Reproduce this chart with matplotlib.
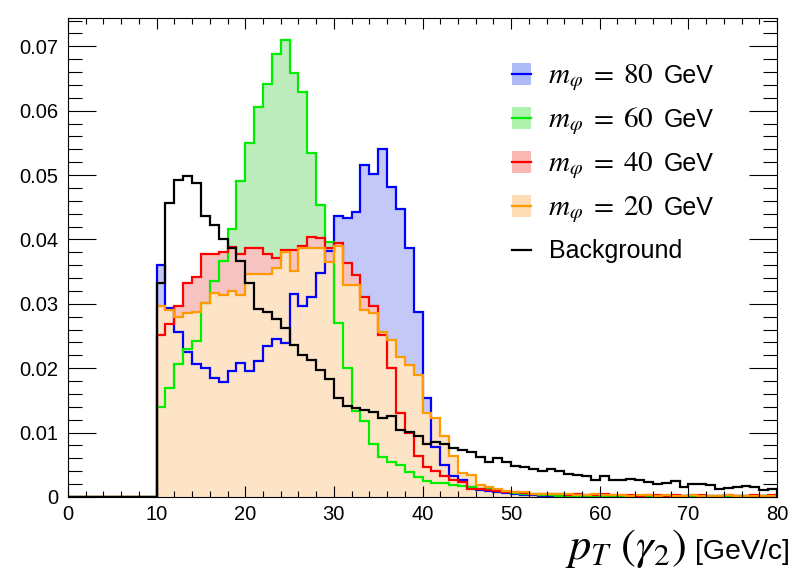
import numpy as np
import matplotlib.pyplot as plt
from matplotlib.patches import Rectangle
from matplotlib.lines import Line2D
from matplotlib.ticker import MultipleLocator, FuncFormatter

plt.rcParams['font.family'] = ['Liberation Sans', 'DejaVu Sans']
plt.rcParams['mathtext.fontset'] = 'stix'

# 1 GeV bins from 0 to 80, nothing below 10 GeV
edges = np.arange(0, 81)
empty = [0.0] * 10

m80 = empty + [
    0.0360, 0.0294, 0.0257, 0.0225, 0.0206, 0.0201, 0.0185, 0.0178, 0.0196, 0.0208,
    0.0195, 0.0212, 0.0234, 0.0246, 0.0239, 0.0316, 0.0296, 0.0311, 0.0348, 0.0382,
    0.0436, 0.0433, 0.0442, 0.0516, 0.0501, 0.0541, 0.0482, 0.0448, 0.0386, 0.0287,
    0.0153, 0.0078, 0.0050, 0.0032, 0.0027, 0.0016, 0.0011, 0.0010, 0.0008, 0.0006,
    0.0005, 0.0003, 0.0003, 0.0002, 0.0002, 0.0002, 0.0001, 0.0002, 0.0001, 0.0001,
    0.0002, 0.0001, 0.0001, 0.0001, 0.0001, 0.0002, 0.0001, 0.0001, 0.0001, 0.0001,
    0.0001, 0.0001, 0.0001, 0.0001, 0.0002, 0.0001, 0.0001, 0.0001, 0.0001, 0.0001,
]
m60 = empty + [
    0.0140, 0.0169, 0.0206, 0.0230, 0.0242, 0.0302, 0.0335, 0.0367, 0.0417, 0.0491,
    0.0550, 0.0605, 0.0642, 0.0688, 0.0710, 0.0659, 0.0629, 0.0535, 0.0454, 0.0396,
    0.0271, 0.0201, 0.0134, 0.0118, 0.0082, 0.0062, 0.0054, 0.0050, 0.0039, 0.0031,
    0.0025, 0.0022, 0.0021, 0.0019, 0.0017, 0.0015, 0.0013, 0.0012, 0.0010, 0.0008,
    0.0006, 0.0005, 0.0004, 0.0003, 0.0003, 0.0002, 0.0002, 0.0002, 0.0001, 0.0002,
    0.0001, 0.0001, 0.0001, 0.0001, 0.0001, 0.0001, 0.0001, 0.0001, 0.0001, 0.0001,
    0.0001, 0.0002, 0.0001, 0.0001, 0.0001, 0.0001, 0.0001, 0.0001, 0.0001, 0.0001,
]
m40 = empty + [
    0.0252, 0.0268, 0.0297, 0.0333, 0.0342, 0.0377, 0.0377, 0.0380, 0.0389, 0.0378,
    0.0386, 0.0386, 0.0378, 0.0372, 0.0384, 0.0384, 0.0390, 0.0404, 0.0402, 0.0386,
    0.0394, 0.0363, 0.0345, 0.0311, 0.0296, 0.0252, 0.0200, 0.0130, 0.0099, 0.0063,
    0.0046, 0.0041, 0.0032, 0.0026, 0.0024, 0.0013, 0.0012, 0.0011, 0.0009, 0.0008,
    0.0007, 0.0006, 0.0005, 0.0004, 0.0004, 0.0004, 0.0003, 0.0004, 0.0003, 0.0003,
    0.0004, 0.0003, 0.0003, 0.0003, 0.0002, 0.0003, 0.0003, 0.0002, 0.0003, 0.0002,
    0.0003, 0.0003, 0.0002, 0.0002, 0.0003, 0.0002, 0.0002, 0.0003, 0.0002, 0.0003,
]
m20 = empty + [
    0.0296, 0.0290, 0.0280, 0.0286, 0.0287, 0.0301, 0.0317, 0.0314, 0.0320, 0.0314,
    0.0347, 0.0347, 0.0347, 0.0355, 0.0380, 0.0351, 0.0386, 0.0386, 0.0386, 0.0365,
    0.0390, 0.0330, 0.0330, 0.0290, 0.0286, 0.0257, 0.0244, 0.0218, 0.0205, 0.0190,
    0.0130, 0.0122, 0.0094, 0.0063, 0.0037, 0.0034, 0.0019, 0.0016, 0.0012, 0.0010,
    0.0008, 0.0007, 0.0005, 0.0005, 0.0004, 0.0004, 0.0004, 0.0003, 0.0003, 0.0004,
    0.0003, 0.0003, 0.0003, 0.0002, 0.0003, 0.0003, 0.0002, 0.0003, 0.0002, 0.0002,
    0.0003, 0.0002, 0.0002, 0.0002, 0.0003, 0.0002, 0.0002, 0.0002, 0.0002, 0.0002,
]
background = empty + [
    0.0333, 0.0456, 0.0492, 0.0498, 0.0487, 0.0436, 0.0423, 0.0400, 0.0387, 0.0366,
    0.0332, 0.0292, 0.0287, 0.0276, 0.0262, 0.0236, 0.0220, 0.0213, 0.0197, 0.0184,
    0.0153, 0.0141, 0.0138, 0.0135, 0.0132, 0.0123, 0.0126, 0.0104, 0.0101, 0.0094,
    0.0083, 0.0086, 0.0083, 0.0076, 0.0073, 0.0070, 0.0062, 0.0055, 0.0061, 0.0055,
    0.0048, 0.0046, 0.0043, 0.0041, 0.0043, 0.0041, 0.0036, 0.0034, 0.0032, 0.0027,
    0.0032, 0.0027, 0.0026, 0.0028, 0.0026, 0.0024, 0.0020, 0.0021, 0.0025, 0.0016,
    0.0020, 0.0020, 0.0019, 0.0012, 0.0014, 0.0015, 0.0017, 0.0015, 0.0011, 0.0013,
]

masses = ['80', '60', '40', '20']
line_colors = ['#0000ff', '#00ee00', '#ff0000', '#ff9a00']
fill_colors = ['#c3c8f6', '#bdedbd', '#f7c3c1', '#fde4c6']
legend_fills = ['#afbbf5', '#aef2ae', '#f9b8b2', '#fddcb6']
signals = [m80, m60, m40, m20]

W, H = 794, 573
fig = plt.figure(figsize=(W / 100, H / 100), dpi=100)
ax = fig.add_axes([68 / W, 1 - 497 / H, 709 / W, 479 / H])

for vals, fc in zip(signals, fill_colors):
    ax.stairs(vals, edges, fill=True, color=fc, lw=0)
for vals, lc in zip(signals, line_colors):
    ax.stairs(vals, edges, baseline=0, color=lc, lw=1.6)
ax.stairs(background, edges, baseline=0, color='black', lw=1.6)

ax.set_xlim(0, 80)
ax.set_ylim(0, 0.0744)
ax.xaxis.set_major_locator(MultipleLocator(10))
ax.xaxis.set_minor_locator(MultipleLocator(2))
ax.yaxis.set_major_locator(MultipleLocator(0.01))
ax.yaxis.set_minor_locator(MultipleLocator(0.002))
ax.yaxis.set_major_formatter(FuncFormatter(lambda v, p: '0' if abs(v) < 1e-9 else f'{v:.2f}'))
ax.tick_params(which='both', direction='in', top=True, right=True, width=0.8, labelsize=14.5)
ax.tick_params(axis='x', which='major', length=8, pad=6)
ax.tick_params(axis='x', which='minor', length=4)
ax.tick_params(axis='y', which='major', length=20, pad=7)
ax.tick_params(axis='y', which='minor', length=10)
for s in ax.spines.values():
    s.set_linewidth(0.8)


def fpos(x, y):
    # pixel position measured from the top left -> figure fraction
    return x / W, 1 - y / H


renderer = fig.canvas.get_renderer()

# x axis title, ROOT style: large math part, sans unit part, right aligned
unit = fig.text(*fpos(790, 559), '[GeV/c]', fontsize=20.5, ha='right', va='baseline')
ux0 = unit.get_window_extent(renderer).x0
fig.text(ux0 / W - 9 / W, 1 - 559 / H, r'$p_{T}\ (\gamma_{2})$', fontsize=32,
         ha='right', va='baseline')

# legend
for i in range(5):
    yc = 74 + 44 * i
    if i < 4:
        fig.add_artist(Rectangle(fpos(512, yc + 11), 19 / W, 22 / H,
                                 transform=fig.transFigure, facecolor=legend_fills[i],
                                 edgecolor='none'))
        lc = line_colors[i]
    else:
        lc = 'black'
    x0, y0 = fpos(512, yc)
    x1, _ = fpos(531, yc)
    fig.add_artist(Line2D([x0, x1], [y0, y0], transform=fig.transFigure, color=lc, lw=1.6))
    if i < 4:
        t = fig.text(*fpos(548, yc + 9), r'$m_{\varphi}\;=\;%s$' % masses[i], fontsize=21,
                     va='baseline')
        tx1 = t.get_window_extent(renderer).x1
        fig.text(tx1 / W + 10 / W, 1 - (yc + 9) / H, 'GeV', fontsize=18, va='baseline')
    else:
        fig.text(*fpos(549, yc + 8), 'Background', fontsize=18, va='baseline')

fig.savefig('out.png', dpi=100)
